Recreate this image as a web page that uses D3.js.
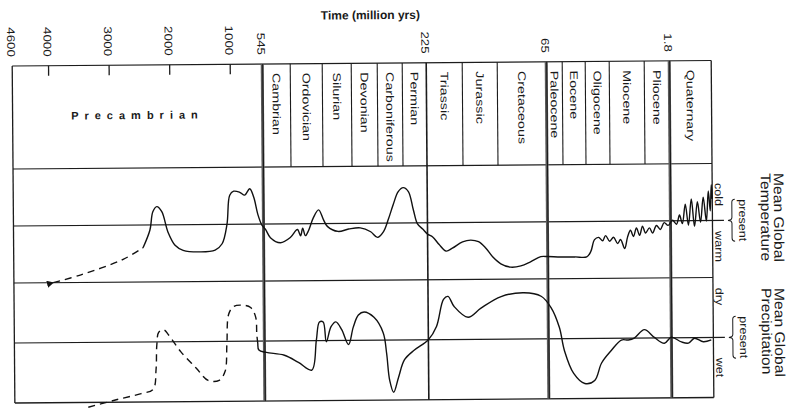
<!DOCTYPE html>
<html>
<head>
<meta charset="utf-8">
<script src="https://cdn.jsdelivr.net/npm/d3@7"></script>
<style>
  body { margin: 0; background: #fff; }
  svg { display: block; }
  text { font-family: "Liberation Sans", Arial, sans-serif; fill: #1a1a1a; }
</style>
</head>
<body>
<div id="chart"></div>
<script>
const width = 790;
const height = 408;

// geologic periods, boundaries in million years
const periods = ["Precambrian", "Cambrian", "Ordovician", "Silurian", "Devonian", "Carboniferous", "Permian",
    "Triassic", "Jurassic", "Cretaceous", "Paleocene", "Eocene", "Oligocene", "Miocene", "Pliocene", "Quaternary"];
const boundaryAges = [4600, 545, 500, 440, 410, 360, 290, 225, 190, 136, 65, 54, 38, 25, 5, 1.8, 0];
const tickAges = [4600, 4000, 3000, 2000, 1000, 545, 225, 65, 1.8];
const tickLabels = ["4600", "4000", "3000", "2000", "1000", "545", "225", "65", "1.8"];
const innerTicks = [4000, 3000, 2000, 1000];
const majorAges = [545, 225, 65, 1.8];

// mean global temperature, relative to present (+ = warmer)  [age, value]
const tempDashed = [[3950, 10.0], [3504, 8.7], [2793, 6.0], [2463, 4.0]];
const tempSolid = [
    [2463, 4.0], [2347, 0.9], [2297, -2.3], [2231, -3.2], [2149, -2.3], [2049, 1.3], [1934, 3.6],
    [1801, 4.5], [1520, 4.8], [1273, 4.5], [1157, 3.4], [1074, 0.0], [1025, -5.1], [965, -5.8],
    [879, -5.6], [808, -5.1], [737, -6.2], [680, -4.7], [624, -1.7], [567, 0.2],
    [542, 0.9], [534, 2.4], [518, 3.3], [502, 2.4], [489, 1.0], [483, 2.1], [479, 0.8], [474, 2.1],
    [468, 1.2], [459, -1.0], [449, -2.4], [440, -0.7], [436, 0.5], [425, 1.4], [414, 1.0],
    [395, 0.8], [375, 1.5], [362, 2.5], [346, 1.5], [332, -0.7], [318, -3.3], [304, -5.5],
    [290, -6.2], [276, -5.5], [263, -2.3], [252, 0.2], [238, 1.1], [225, 2.0], [220, 2.5],
    [214, 3.8], [207, 5.0], [201, 4.5], [191, 3.4], [179, 3.1], [167, 3.4], [156, 4.5], [145, 6.1],
    [133, 7.3], [119, 7.9], [104, 7.7], [90, 7.0], [75, 6.1], [65, 6.1], [56, 6.2], [46, 6.2],
    [38, 6.2], [35.8, 5.3], [33.7, 3.2], [31.5, 2.8], [29.3, 3.4], [27.7, 2.5], [25.5, 3.5],
    [23.3, 2.8], [21, 3.9], [19.3, 3.2], [17, 4.8], [15.3, 2.8], [13.6, 1.6], [11.9, 2.7],
    [10.2, 1.2], [8.4, 2.5], [6.7, 0.9], [5.0, 2.1], [4.5, 1.2], [4.1, 2.1], [3.6, 0.8], [3.1, 1.5],
    [2.6, 0.3], [2.1, 0.8], [1.71, -0.1], [1.54, 0.6], [1.41, -1.0], [1.29, 0.5], [1.16, -2.9],
    [1.03, 0.8], [0.90, -3.8], [0.77, 1.0], [0.64, -3.3], [0.51, 0.3], [0.39, -4.1], [0.26, 0.1],
    [0.17, -5.2], [0.09, -1.7], [0.04, -6.3], [0, -3.8]
];

// mean global precipitation, relative to present (+ = wetter)  [age, value]
const precipDashed = [
    [3388, 10.8], [2925, 9.6], [2512, 8.6], [2314, 7.9], [2264, 4.6], [2248, 0.5], [2215, -1.6],
    [2132, -2.0], [2049, -1.1], [1851, 1.7], [1603, 4.4], [1405, 6.5], [1223, 6.5], [1124, 5.0],
    [1091, 0.5], [1058, -4.5], [979, -5.8], [851, -6.0], [737, -5.6], [666, -4.0], [652, -1.1], [638, 0.5]
];
const precipSolid = [
    [638, 0.5], [624, 1.5], [542, 1.9], [513, 2.4], [489, 3.6], [464, 4.9], [455, -0.1], [449, -3.1],
    [442, -3.1], [438, 0.2], [433, -2.3], [428, -3.1], [422, -1.8], [415, 0.7], [410, -2.2],
    [400, -4.2], [389, -4.7], [370, -3.8], [349, -1.2], [340, 2.2], [332, 6.7], [321, 8.7],
    [307, 6.2], [290, 3.3], [263, 1.7], [225, 0.0], [217, -2.2], [210, -6.7], [205.6, -7.2],
    [199.7, -5.5], [184, -3.7], [164, -5.2], [133, -7.1], [100, -7.7], [75, -7.1], [63, -5.2],
    [57.4, -1.9], [54, 2.0], [47.7, 5.8], [40, 7.5], [34.2, 7.0], [30.4, 4.1], [25, 2.0],
    [19.3, 0.3], [15.3, 0.3], [11.9, 0.0], [6.1, -1.4], [3.98, -0.1], [2.7, 0.9], [1.8, -0.1],
    [1.37, 0.7], [1.07, 0.9], [0.81, 0.1], [0.43, 0.7], [0.09, 0.4]
];

const svg = d3.select("#chart")
    .append("svg")
    .attr("width", width)
    .attr("height", height);

svg.append("defs").append("marker")
    .attr("id", "arrow")
    .attr("viewBox", "0 0 10 10")
    .attr("refX", 1).attr("refY", 5)
    .attr("markerWidth", 5).attr("markerHeight", 5)
    .attr("orient", "auto-start-reverse")
    .append("path")
    .attr("d", "M10,0 L0,5 L10,10 z")
    .attr("fill", "#111");

// the scan is a little tilted
const root = svg.append("g").attr("transform", "rotate(-0.45, 13, 230)");

// piecewise time scale: every period gets its own box width
const x = d3.scaleLinear()
    .domain([4600, 1000, 545, 500, 440, 410, 360, 290, 225, 190, 136, 65, 54, 38, 25, 5, 1.8, 0])
    .range([13.5, 231.5, 263.5, 291.5, 323.5, 352.5, 378.5, 403.5, 427.5, 463.5, 498.5, 547.5,
        563.5, 586.5, 610.5, 645.5, 670.5, 712.5]);

const headTop = 66, headBottom = 169;
const yT = d3.scaleLinear().domain([-10, 10]).range([169, 283]);
const yP = d3.scaleLinear().domain([-10, 10]).range([283, 403]);

const ink = "#1c1c1c";
const hline = (y, x1, x2, w) => root.append("line")
    .attr("x1", x1).attr("x2", x2).attr("y1", y).attr("y2", y)
    .attr("stroke", ink).attr("stroke-width", w || 1.1);
const vline = (xx, y1, y2, w, c) => root.append("line")
    .attr("x1", xx).attr("x2", xx).attr("y1", y1).attr("y2", y2)
    .attr("stroke", c || ink).attr("stroke-width", w || 1.1);

// rotated text (reads top to bottom)
const vText = (xx, y, str, size, sx, anchor) => root.append("text")
    .attr("transform", `translate(${xx},${y}) rotate(90) scale(${sx},1)`)
    .attr("dy", "0.35em")
    .attr("text-anchor", anchor || "start")
    .style("font-size", size + "px")
    .text(str);

// ---- header with period boxes ----
hline(headTop, x(4600), x(0), 1.2);
hline(headBottom, x(4600), x(0), 1.2);
boundaryAges.slice(1, -1).forEach((a) => {
    if (!majorAges.includes(a)) vline(x(a), headTop, headBottom, 1.1);
});
innerTicks.forEach((a) => vline(x(a), headTop, headTop + 10, 1.3));

periods.forEach((p, i) => {
    const cx = (x(boundaryAges[i]) + x(boundaryAges[i + 1])) / 2;
    if (i === 0) {
        root.append("text")
            .attr("x", 72).attr("y", 120)
            .style("font-size", "11px").style("font-weight", "bold")
            .style("letter-spacing", "6px")
            .text(p);
    } else {
        vText(cx, 75, p, 11, 1.3, "start");
    }
});

// ---- time axis labels ----
root.append("text")
    .attr("x", 372).attr("y", 22)
    .attr("text-anchor", "middle")
    .style("font-size", "12px").style("font-weight", "bold")
    .text("Time (million yrs)");
tickAges.forEach((a, i) => vText(x(a) - 1, 57, tickLabels[i], 11, 1.22, "end"));

// ---- curve panels ----
hline(yT(0), x(4600), 724, 1.1);
hline(yT(10), x(4600), x(0), 1.2);
hline(yP(0), x(4600), 724, 1.1);
hline(yP(10), x(4600), x(0), 1.3);
vline(x(4600), headTop, yP(10), 1.3);
vline(x(0), headTop, yP(10), 1.3);
majorAges.forEach((a) => {
    const heavy = a !== 225;
    vline(x(a), headTop, yP(10), heavy ? 3 : 1.6, heavy ? "#5a5a5a" : ink);
    if (heavy) vline(x(a) + 0.5, headTop, yP(10), 0.9, "#111");
});

const tempLine = d3.line()
    .x((d) => x(d[0]))
    .y((d) => yT(d[1]))
    .curve(d3.curveCatmullRom.alpha(0.5));
const precipLine = d3.line()
    .x((d) => x(d[0]))
    .y((d) => yP(d[1]))
    .curve(d3.curveCatmullRom.alpha(0.5));

root.append("path").datum(tempDashed)
    .attr("d", tempLine)
    .attr("fill", "none").attr("stroke", "#111").attr("stroke-width", 1.4)
    .attr("stroke-dasharray", "7,5")
    .attr("marker-start", "url(#arrow)");
root.append("path").datum(tempSolid)
    .attr("d", tempLine)
    .attr("fill", "none").attr("stroke", "#111").attr("stroke-width", 1.4);
root.append("path").datum(precipDashed)
    .attr("d", precipLine)
    .attr("fill", "none").attr("stroke", "#111").attr("stroke-width", 1.4)
    .attr("stroke-dasharray", "7,5");
root.append("path").datum(precipSolid)
    .attr("d", precipLine)
    .attr("fill", "none").attr("stroke", "#111").attr("stroke-width", 1.4);

// ---- right-hand labels ----
const brace = (cy) => root.append("path")
    .attr("d", `M735,${cy - 21} q-3,0 -3,3 v15 q0,3 -4,3 q4,0 4,3 v15 q0,3 3,3`)
    .attr("fill", "none").attr("stroke", ink).attr("stroke-width", 1);

vText(719, 200, "cold", 11, 1.15, "middle");
vText(719, 252, "warm", 11, 1.15, "middle");
vText(743, yT(0), "present", 11, 1.15, "middle");
brace(yT(0));
vText(719, 302, "dry", 11, 1.15, "middle");
vText(719, 373, "wet", 11, 1.15, "middle");
vText(743, yP(0), "present", 11, 1.15, "middle");
brace(yP(0));

vText(779, 179, "Mean Global", 14, 1.12, "start");
vText(766, 179, "Temperature", 14, 1.12, "start");
vText(779, 294, "Mean Global", 14, 1.12, "start");
vText(766, 294, "Precipitation", 14, 1.12, "start");
</script>
</body>
</html>
